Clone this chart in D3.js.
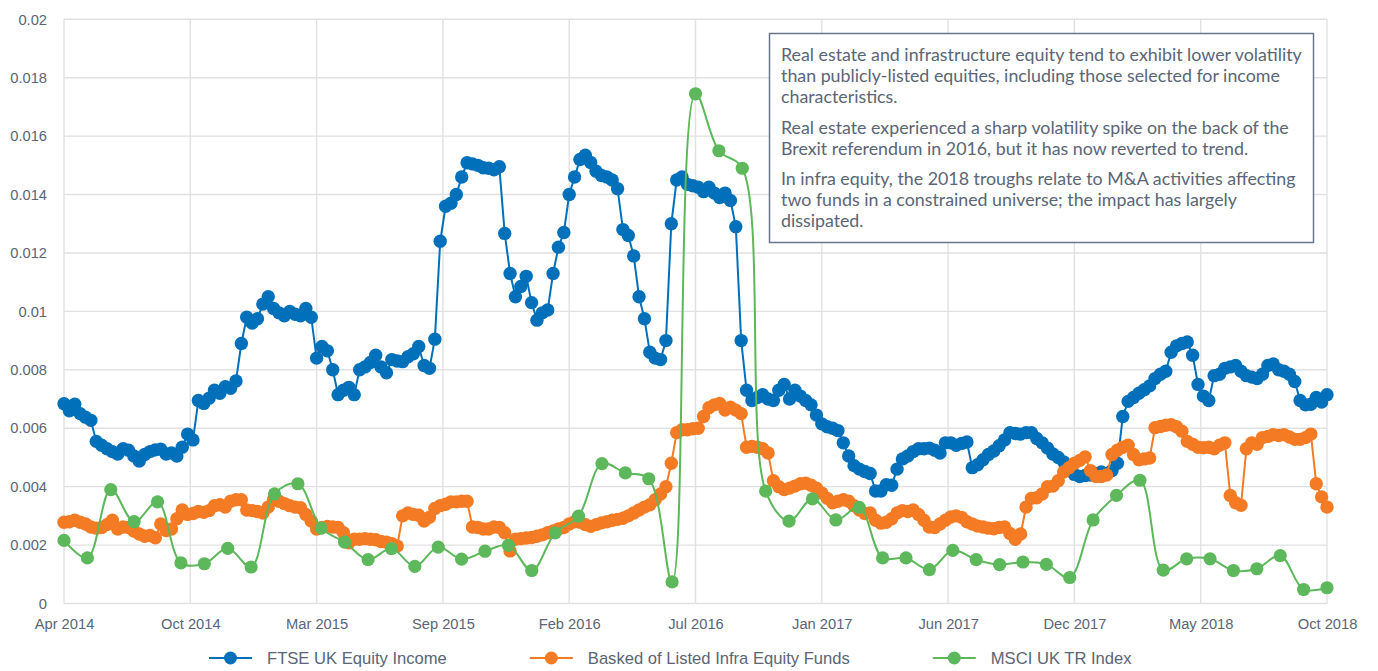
<!DOCTYPE html>
<html>
<head>
<meta charset="utf-8">
<script src="https://cdn.jsdelivr.net/npm/d3@7"></script>
<style>
  html, body { margin: 0; padding: 0; background: #fff; }
  svg { display: block; }
</style>
</head>
<body>
<div id="chart"></div>
<script>
"use strict";

// x tick labels, evenly spaced along the weekly axis
var xLabels = ["Apr 2014", "Oct 2014", "Mar 2015", "Sep 2015", "Feb 2016", "Jul 2016",
    "Jan 2017", "Jun 2017", "Dec 2017", "May 2018", "Oct 2018"];
// y ticks in thousandths (0 .. 0.02)
var yTicks = [0, 2, 4, 6, 8, 10, 12, 14, 16, 18, 20];

var seriesNames = ["FTSE UK Equity Income", "Basked of Listed Infra Equity Funds", "MSCI UK TR Index"];

// weekly volatility, thousandths
var ftseIncome = [
    6.84, 6.6, 6.82, 6.5, 6.38, 6.27, 5.55, 5.42, 5.3, 5.2,
    5.12, 5.3, 5.25, 5.05, 4.88, 5.1, 5.2, 5.26, 5.28, 5.12,
    5.15, 5.05, 5.35, 5.8, 5.6, 6.95, 6.85, 7.03, 7.3, 7.2,
    7.42, 7.37, 7.62, 8.9, 9.8, 9.6, 9.75, 10.25, 10.5, 10.1,
    9.95, 9.85, 10.0, 9.9, 9.85, 10.1, 9.8, 8.4, 8.8, 8.65,
    8.0, 7.15, 7.3, 7.4, 7.15, 8.0, 8.1, 8.25, 8.5, 8.1,
    7.9, 8.35, 8.3, 8.28, 8.45, 8.55, 8.8, 8.15, 8.05, 9.05,
    12.4, 13.6, 13.7, 14.0, 14.6, 15.09, 15.05, 15.0, 14.92, 14.9,
    14.85, 14.95, 12.67, 11.3, 10.5, 10.85, 11.2, 10.3, 9.7, 9.95,
    10.05, 11.3, 12.2, 12.7, 14.0, 14.6, 15.2, 15.35, 15.1, 14.8,
    14.65, 14.6, 14.5, 14.2, 12.8, 12.6, 11.9, 10.5, 9.75, 8.6,
    8.4, 8.35, 9.0, 13.0, 14.5, 14.6, 14.35, 14.3, 14.25, 14.1,
    14.25, 14.05, 13.9, 14.05, 13.8, 12.9, 9.0, 7.3, 6.95, 7.05,
    7.15, 7.0, 6.95, 7.3, 7.5, 7.0, 7.3, 7.1, 6.95, 6.8,
    6.45, 6.15, 6.05, 6.0, 5.92, 5.5, 5.05, 4.72, 4.6, 4.52,
    4.45, 3.85, 3.85, 4.07, 4.05, 4.6, 4.95, 5.05, 5.2, 5.3,
    5.3, 5.32, 5.25, 5.15, 5.5, 5.5, 5.42, 5.48, 5.53, 4.65,
    4.75, 4.92, 5.1, 5.22, 5.4, 5.6, 5.85, 5.82, 5.8, 5.85,
    5.85, 5.65, 5.5, 5.32, 5.12, 5.0, 4.85, 4.6, 4.42, 4.35,
    4.38, 4.4, 4.45, 4.5, 4.45, 4.55, 4.8, 6.4, 6.92, 7.05,
    7.2, 7.32, 7.45, 7.7, 7.85, 7.95, 8.6, 8.82, 8.9, 8.95,
    8.5, 7.5, 7.1, 6.95, 7.8, 7.85, 8.05, 8.1, 8.15, 7.95,
    7.8, 7.75, 7.7, 7.85, 8.15, 8.2, 8.0, 7.95, 7.85, 7.6,
    6.95, 6.8, 6.82, 7.05, 6.9, 7.15
];

var infraFunds = [
    2.78, 2.8, 2.85, 2.78, 2.72, 2.62, 2.58, 2.6, 2.7, 2.85,
    2.55, 2.62, 2.6, 2.48, 2.38, 2.3, 2.33, 2.25, 2.72, 2.5,
    2.55, 2.9, 3.2, 3.05, 3.08, 3.15, 3.12, 3.18, 3.35, 3.38,
    3.3, 3.5, 3.55, 3.55, 3.2, 3.18, 3.15, 3.1, 3.3, 3.56,
    3.5, 3.42, 3.35, 3.3, 3.28, 3.05, 2.82, 2.55, 2.6, 2.64,
    2.62, 2.6, 2.42, 2.08, 2.2, 2.2, 2.22, 2.2, 2.18, 2.12,
    2.1, 2.05, 1.97, 3.0, 3.1, 3.05, 3.02, 2.82, 2.95, 3.25,
    3.35, 3.4, 3.48, 3.48, 3.5, 3.5, 2.62, 2.6, 2.55, 2.55,
    2.62, 2.6, 2.42, 1.8, 2.2, 2.22, 2.24, 2.26, 2.3, 2.35,
    2.42, 2.48, 2.55, 2.6, 2.72, 2.8, 2.78, 2.7, 2.64, 2.7,
    2.76, 2.8, 2.85, 2.88, 2.92, 3.0, 3.1, 3.2, 3.3, 3.38,
    3.55, 3.75, 4.0, 4.8, 5.85, 5.95, 5.95, 5.98, 6.0, 6.4,
    6.7, 6.8, 6.85, 6.62, 6.72, 6.62, 6.5, 5.35, 5.38, 5.35,
    5.3, 5.15, 4.2, 4.0, 3.9, 3.95, 4.02, 4.1, 4.12, 4.05,
    3.95, 3.78, 3.6, 3.45, 3.5, 3.55, 3.5, 3.35, 3.2, 3.08,
    3.1, 2.85, 2.75, 2.78, 2.9, 3.1, 3.18, 3.15, 3.2, 3.05,
    2.85, 2.62, 2.6, 2.72, 2.85, 2.96, 3.0, 2.95, 2.8, 2.72,
    2.65, 2.62, 2.58, 2.56, 2.6, 2.62, 2.4, 2.2, 2.38, 3.3,
    3.6, 3.62, 3.75, 4.0, 4.02, 4.2, 4.5, 4.65, 4.8, 4.9,
    5.02, 4.55, 4.35, 4.35, 4.4, 5.1, 5.25, 5.35, 5.42, 5.1,
    4.92, 4.95, 4.98, 6.02, 6.06, 6.1, 6.12, 6.05, 5.9, 5.55,
    5.45, 5.35, 5.33, 5.35, 5.3, 5.42, 5.5, 3.7, 3.45, 3.36,
    5.3, 5.5, 5.45, 5.68, 5.72, 5.78, 5.75, 5.78, 5.7, 5.62,
    5.62, 5.68, 5.8, 4.1, 3.65, 3.3
];

// monthly, thousandths
var msciUk = [
    2.16, 1.56, 3.90, 2.80, 3.48, 1.39, 1.36, 1.89, 1.25, 3.75,
    4.10, 2.58, 2.10, 1.50, 1.88, 1.27, 1.93, 1.52, 1.79, 1.99,
    1.13, 2.42, 2.99, 4.79, 4.47, 4.27, 0.74, 17.45, 15.5, 14.9,
    3.85, 2.82, 3.58, 2.86, 3.29, 1.56, 1.56, 1.16, 1.82, 1.50,
    1.33, 1.42, 1.34, 0.89, 2.86, 3.70, 4.22, 1.14, 1.53, 1.53,
    1.13, 1.19, 1.64, 0.48, 0.54
];

var noteParagraphs = [
    ["Real estate and infrastructure equity tend to exhibit lower volatility",
        "than publicly-listed equities, including those selected for income",
        "characteristics."],
    ["Real estate experienced a sharp volatility spike on the back of the",
        "Brexit referendum in 2016, but it has now reverted to trend."],
    ["In infra equity, the 2018 troughs relate to M&A activities affecting",
        "two funds in a constrained universe; the impact has largely",
        "dissipated."]
];

var colors = ["#0070ba", "#f47b24", "#5cb85a"];
var textColor = "#5a6576";
var font = "'Liberation Sans', Arial, sans-serif";

var W = 1378, H = 671;
var months = 54;

var svg = d3.select("#chart").append("svg")
    .attr("width", W)
    .attr("height", H);

var x = d3.scaleLinear().domain([0, months]).range([64, 1327]);
var y = d3.scaleLinear().domain([0, 20]).range([603.5, 19.3]);

var xTickVals = xLabels.map(function (d, i) { return i * months / (xLabels.length - 1); });

// grid
var grid = svg.append("g").attr("class", "grid");
grid.selectAll("line.v")
    .data(xTickVals)
    .join("line")
    .attr("class", "v")
    .attr("x1", function (d) { return x(d); })
    .attr("x2", function (d) { return x(d); })
    .attr("y1", y(20))
    .attr("y2", y(0))
    .attr("stroke", "#e1e1e1")
    .attr("stroke-width", 1.4);
grid.selectAll("line.h")
    .data(yTicks)
    .join("line")
    .attr("class", "h")
    .attr("x1", x(0))
    .attr("x2", x(months))
    .attr("y1", function (d) { return y(d); })
    .attr("y2", function (d) { return y(d); })
    .attr("stroke", "#e1e1e1")
    .attr("stroke-width", 1.4);

// axes (labels only)
var xAxis = svg.append("g")
    .attr("transform", "translate(0," + y(0) + ")")
    .call(d3.axisBottom(x)
        .tickValues(xTickVals)
        .tickSize(0)
        .tickPadding(15)
        .tickFormat(function (d, i) { return xLabels[i]; }));

var yAxis = svg.append("g")
    .attr("transform", "translate(" + x(0) + ",0)")
    .call(d3.axisLeft(y)
        .tickValues(yTicks)
        .tickSize(0)
        .tickPadding(17)
        .tickFormat(function (d) { return String(+(d / 1000).toFixed(3)); }));

[xAxis, yAxis].forEach(function (a) {
    a.select(".domain").remove();
    a.selectAll("text")
        .attr("fill", textColor)
        .style("font-family", font)
        .style("font-size", "14.7px");
});

// series
function drawSeries(values, xOf, color, curve, r) {
    var g = svg.append("g");
    var line = d3.line()
        .x(function (d, i) { return x(xOf(i)); })
        .y(function (d) { return y(d); })
        .curve(curve);
    g.append("path")
        .attr("d", line(values))
        .attr("fill", "none")
        .attr("stroke", color)
        .attr("stroke-width", 2);
    g.selectAll("circle")
        .data(values)
        .join("circle")
        .attr("cx", function (d, i) { return x(xOf(i)); })
        .attr("cy", function (d) { return y(d); })
        .attr("r", r)
        .attr("fill", color);
}

function weekly(n) {
    return function (i) { return i * months / (n - 1); };
}

drawSeries(ftseIncome, weekly(ftseIncome.length), colors[0], d3.curveLinear, 6.7);
drawSeries(infraFunds, weekly(infraFunds.length), colors[1], d3.curveLinear, 6.7);
drawSeries(msciUk, function (i) { return i; }, colors[2], d3.curveCatmullRom.alpha(0.5), 6.6);

// legend
var legend = svg.append("g").attr("transform", "translate(209,658)");
var lx = 0;
seriesNames.forEach(function (name, i) {
    var item = legend.append("g").attr("transform", "translate(" + lx + ",0)");
    item.append("line")
        .attr("x1", 0).attr("x2", 43)
        .attr("stroke", colors[i])
        .attr("stroke-width", 2);
    item.append("circle")
        .attr("cx", 21.5)
        .attr("r", 6.5)
        .attr("fill", colors[i]);
    var t = item.append("text")
        .attr("x", 58)
        .attr("dy", "0.35em")
        .attr("fill", textColor)
        .style("font-family", font)
        .style("font-size", "16.6px")
        .text(name);
    lx += 58 + t.node().getComputedTextLength() + 83;
});

// note box
var note = svg.append("g");
note.append("rect")
    .attr("x", 769.5)
    .attr("y", 33.5)
    .attr("width", 544)
    .attr("height", 209)
    .attr("fill", "#fff")
    .attr("stroke", "#6a7689")
    .attr("stroke-width", 1.5);

var noteText = note.append("text")
    .attr("fill", textColor)
    .style("font-family", "Lato, 'Open Sans', sans-serif")
    .style("font-size", "16px");

// fit the widest line to the box width seen in the original
var probe = noteText.append("tspan").text(noteParagraphs[0][0]);
var fs = 16 * 521 / probe.node().getComputedTextLength();
probe.remove();
noteText.style("font-size", fs + "px");

var by = 61;
noteParagraphs.forEach(function (para, p) {
    if (p > 0) by += 9;
    para.forEach(function (ln, j) {
        noteText.append("tspan")
            .attr("x", 781)
            .attr("y", by)
            .text(ln);
        by += 21.2;
    });
});
</script>
</body>
</html>
